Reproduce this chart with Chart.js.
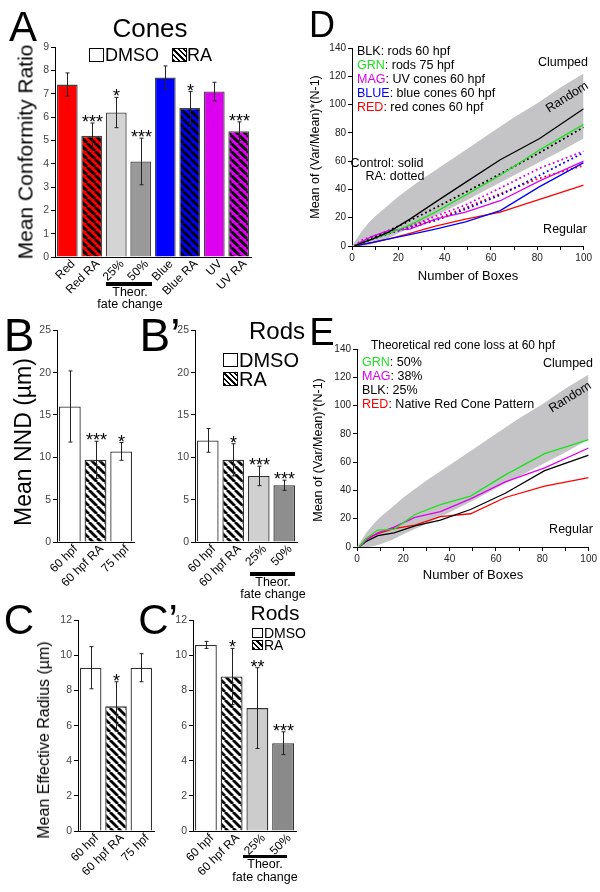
<!DOCTYPE html>
<html>
<head>
<meta charset="utf-8">
<script src="https://cdn.jsdelivr.net/npm/chart.js@4.4.1/dist/chart.umd.min.js"></script>
<style>
body { margin:0; background:#fff; width:600px; height:892px; position:relative; overflow:hidden; font-family:'Liberation Sans', Arial, sans-serif; }
canvas { position:absolute; }
.t { position:absolute; line-height:1; white-space:nowrap; color:#000; }
.c { transform:translate(-50%,-50%); }
.l { transform:translateY(-50%); }
.box { position:absolute; border:1.3px solid #000; background:#fff; box-sizing:border-box; }
.hb { background:repeating-linear-gradient(45deg,#000 0 1.7px,#fff 1.7px 3.8px); }
.bar { position:absolute; background:#000; }
</style>
</head>
<body>
<script>
// ---- data: cones (panel A) ----
const coneLabels = ['Red', 'Red RA', '25%', '50%', 'Blue', 'Blue RA', 'UV', 'UV RA'];
const coneMeans  = [7.4, 5.2, 6.2, 4.1, 7.7, 6.4, 7.1, 5.4];
const coneErr    = [0.5, 0.55, 0.65, 1.0, 0.5, 0.7, 0.4, 0.4];
const coneStars  = ['', '***', '*', '***', '', '*', '', '***'];

// ---- data: rods NND (panels B, B') ----
const hpfLabels    = ['60 hpf', '60 hpf RA', '75 hpf'];
const rodLabels    = ['60 hpf', '60 hpf RA', '25%', '50%'];
const nndMeans     = [16, 9.7, 10.7];
const nndErr       = [4.2, 2.2, 1.05];
const nndStars     = ['', '***', '*'];
const rodNndMeans  = [12, 9.7, 7.8, 6.7];
const rodNndErr    = [1.4, 1.9, 1.15, 0.6];
const rodNndStars  = ['', '*', '***', '***'];

// ---- data: effective radius (panels C, C') ----
const radMeans     = [9.3, 7.1, 9.3];
const radErr       = [1.2, 1.4, 0.8];
const radStars     = ['', '*', ''];
const rodRadMeans  = [10.6, 8.8, 7.0, 5.0];
const rodRadErr    = [0.2, 1.6, 2.3, 0.65];
const rodRadStars  = ['', '*', '**', '***'];

// ---- data: dispersion curves (panels D, E) ----
const boxes     = [1, 4, 9, 16, 25, 36, 49, 64, 81, 100];
const bandX     = [0, 2, 4, 7, 10, 15, 20, 30, 40, 50, 60, 70, 80, 90, 100];
const bandHi    = [0, 5, 10, 16, 21, 28, 35, 47, 58, 69, 80, 91, 101, 112, 122];
const bandLo    = [0, 0, 0, 0.5, 2, 5, 9, 16.5, 24.5, 32.7, 41.5, 50, 58.5, 67, 76];

const dRods60     = [0, 2, 5, 10, 19, 31, 45, 61, 76, 97];
const dRods75     = [0, 2, 5, 9, 15, 24, 36, 50, 68, 86];
const dUv60       = [0, 3, 7, 11, 12, 19, 24, 32, 46, 60];
const dBlue60     = [0, 1, 2.5, 5, 8, 12, 17, 25, 42, 59];
const dRed60      = [0, 1, 2.5, 5, 9, 14, 19, 24, 33, 43];
const dRods60RA   = [0, 2, 6, 11, 18, 27, 38, 51, 66, 84];
const dUv60RA     = [0, 4, 7, 9, 14, 21, 29, 41, 55, 67];
const dBlue60RA   = [0, 2, 5, 9, 13, 18, 26, 36, 50, 66];
const dRed60RA    = [0, 2, 5, 9, 14, 19, 27, 37, 48, 57];

const eLoss50   = [0, 6, 12, 12.5, 23, 30, 36, 51, 66, 76];
const eLoss38   = [0, 5, 10, 14, 21, 25, 34, 46, 56, 70];
const eLoss25   = [0, 4, 8, 10, 15, 19, 26.5, 38, 54, 65];
const eNative   = [0, 6, 9.5, 13, 15.5, 21.5, 23.5, 35, 43, 49];

Chart.defaults.font.family = "'Liberation Sans', Arial, sans-serif";
Chart.defaults.color = '#000';

function hatch(base) {
  const s = 8, p = document.createElement('canvas');
  p.width = p.height = s;
  const g = p.getContext('2d');
  g.fillStyle = base; g.fillRect(0, 0, s, s);
  g.strokeStyle = '#000'; g.lineWidth = 2.8;
  for (const k of [-s, 0, s]) { g.beginPath(); g.moveTo(k, 0); g.lineTo(k + s, s); g.stroke(); }
  return g.createPattern(p, 'repeat');
}

function mkCanvas(area, yw, xh, padT, padR) {
  const c = document.createElement('canvas');
  const w = area.r - area.l + yw + padR, h = area.b - area.t + padT + xh;
  c.width = w; c.height = h;
  c.style.left = (area.l - yw) + 'px'; c.style.top = (area.t - padT) + 'px';
  c.style.width = w + 'px'; c.style.height = h + 'px';
  document.body.appendChild(c);
  return c;
}

function txt(s, x, y, size, cls, tf) {
  const d = document.createElement('div');
  d.className = 't ' + (cls || 'c');
  d.style.left = x + 'px'; d.style.top = y + 'px'; d.style.fontSize = size + 'px';
  if (tf) d.style.transform = tf;
  d.innerHTML = s;
  document.body.appendChild(d);
}
function rect(cls, x, y, w, h) {
  const d = document.createElement('div');
  d.className = cls;
  d.style.left = x + 'px'; d.style.top = y + 'px'; d.style.width = w + 'px'; d.style.height = h + 'px';
  document.body.appendChild(d);
}

// error bars + significance stars, from the dataset's own arrays
const errPlugin = {
  id: 'errbars',
  afterDatasetsDraw(chart) {
    const ds = chart.data.datasets[0];
    if (!ds.errs) return;
    const ctx = chart.ctx, xs = chart.scales.x, ys = chart.scales.y;
    ctx.save();
    ctx.strokeStyle = '#222'; ctx.lineWidth = 1;
    ds.data.forEach((m, i) => {
      const px = Math.round(xs.getPixelForValue(i)) + 0.5;
      const hi = ys.getPixelForValue(m + ds.errs[i]), lo = ys.getPixelForValue(m - ds.errs[i]);
      ctx.beginPath();
      ctx.moveTo(px, hi); ctx.lineTo(px, lo);
      ctx.moveTo(px - 2, hi); ctx.lineTo(px + 2, hi);
      ctx.moveTo(px - 2, lo); ctx.lineTo(px + 2, lo);
      ctx.stroke();
      if (ds.stars[i]) {
        ctx.fillStyle = '#000'; ctx.font = "18px 'Liberation Sans', Arial";
        ctx.textAlign = 'center'; ctx.textBaseline = 'alphabetic';
        ctx.fillText(ds.stars[i], px, hi + 5);
      }
    });
    ctx.restore();
  }
};

function barChart(area, labels, means, errs, stars, colors, border, yMax, yStep) {
  const yw = 24, xh = 50, padT = 8, padR = 6;
  const c = mkCanvas(area, yw, xh, padT, padR);
  return new Chart(c, {
    type: 'bar',
    data: {
      labels: labels,
      datasets: [{
        data: means, errs: errs, stars: stars,
        backgroundColor: colors, borderColor: border, borderWidth: 1.3,
        barPercentage: 0.85, categoryPercentage: 1
      }]
    },
    plugins: [errPlugin],
    options: {
      responsive: false, animation: false, devicePixelRatio: 1,
      layout: { autoPadding: false, padding: { left: 0, top: padT, right: padR, bottom: 0 } },
      plugins: { legend: { display: false }, tooltip: { enabled: false } },
      scales: {
        x: {
          grid: { display: false, drawTicks: false, tickLength: 0 },
          border: { color: '#000', width: 1 },
          ticks: { minRotation: 45, maxRotation: 45, autoSkip: false, padding: 0, labelOffset: 6,
                   font: { size: 12 }, color: '#000' },
          afterFit: s => { s.height = xh; }
        },
        y: {
          min: 0, max: yMax,
          grid: { drawOnChartArea: false, tickLength: 4, color: '#000' },
          border: { color: '#000', width: 1 },
          ticks: { stepSize: yStep, font: { size: 10.5 }, color: '#444', padding: 2 },
          afterFit: s => { s.width = yw; }
        }
      }
    }
  });
}

const pts = (xs, ys) => xs.map((x, i) => ({ x: x, y: ys[i] }));
function line(ys, color, dotted) {
  return {
    data: pts(boxes, ys), borderColor: color, borderWidth: dotted ? 1.8 : 1.3,
    borderDash: dotted ? [1.8, 2.8] : [], pointRadius: 0, tension: 0, fill: false
  };
}

function lineChart(area, lines) {
  const yw = 42, xh = 20, padT = 8, padR = 10;
  const c = mkCanvas(area, yw, xh, padT, padR);
  const axis = (max, isY) => ({
    type: 'linear', min: 0, max: max,
    grid: { drawOnChartArea: false, tickLength: 4, color: '#000' },
    border: { color: '#000', width: 1 },
    ticks: { stepSize: 10, font: { size: 10 }, color: '#222', padding: 2, maxRotation: 0,
             callback: v => (v % 20 === 0 ? v : '') },
    afterFit: isY ? (s => { s.width = yw; }) : (s => { s.height = xh; })
  });
  return new Chart(c, {
    type: 'line',
    data: {
      datasets: [
        { data: pts(bandX, bandHi), fill: '+1', backgroundColor: '#c4c4c6', borderWidth: 0, pointRadius: 0, tension: 0, order: 10 },
        { data: pts(bandX, bandLo), fill: false, borderWidth: 0, pointRadius: 0, tension: 0, order: 11 }
      ].concat(lines)
    },
    options: {
      responsive: false, animation: false, devicePixelRatio: 1,
      layout: { autoPadding: false, padding: { left: 0, top: padT, right: padR, bottom: 0 } },
      plugins: { legend: { display: false }, tooltip: { enabled: false }, filler: { drawTime: 'beforeDatasetsDraw' } },
      scales: { x: axis(100, false), y: axis(140, true) }
    }
  });
}

const RED = '#ff0000', BLUE = '#0000ff', MAG = '#dd00ee', GRN = '#1ee01e';

// ---- A ----
barChart({ l: 55, r: 251, t: 47, b: 257 }, coneLabels, coneMeans, coneErr, coneStars,
  [RED, hatch(RED), '#d4d4d4', '#999999', BLUE, hatch(BLUE), MAG, hatch(MAG)], '#444', 9, 1);
// ---- B, B' ----
barChart({ l: 57, r: 134, t: 330, b: 542 }, hpfLabels, nndMeans, nndErr, nndStars,
  ['#fff', hatch('#fff'), '#fff'], '#333', 25, 5);
barChart({ l: 195, r: 297, t: 330, b: 542 }, rodLabels, rodNndMeans, rodNndErr, rodNndStars,
  ['#fff', hatch('#fff'), '#d0d0d0', '#8e8e8e'], '#333', 25, 5);
// ---- C, C' ----
barChart({ l: 78, r: 154, t: 620, b: 831 }, hpfLabels, radMeans, radErr, radStars,
  ['#fff', hatch('#fff'), '#fff'], '#333', 12, 2);
barChart({ l: 193, r: 296, t: 620, b: 831 }, rodLabels, rodRadMeans, rodRadErr, rodRadStars,
  ['#fff', hatch('#fff'), '#cccccc', '#8a8a8a'], '#333', 12, 2);

// ---- D ----
lineChart({ l: 352, r: 584, t: 48, b: 246 }, [
  line(dRods60, '#000'), line(dRods75, GRN), line(dUv60, MAG), line(dBlue60, BLUE), line(dRed60, RED),
  line(dRods60RA, '#000', true), line(dUv60RA, MAG, true), line(dBlue60RA, BLUE, true), line(dRed60RA, RED, true)
]);
// ---- E ----
lineChart({ l: 357, r: 589, t: 349, b: 547 }, [
  line(eLoss50, GRN), line(eLoss38, MAG), line(eLoss25, '#000'), line(eNative, RED)
]);

// ---- text: panel A ----
txt('A', 23, 27, 42);
txt('Cones', 150, 28, 26);
rect('box', 89, 48, 15, 14); txt('DMSO', 105, 55, 18, 'l');
rect('box hb', 172, 48, 15, 14); txt('RA', 187, 55, 18, 'l');
txt('Mean Conformity Ratio', 25, 152, 21, 'c', 'translate(-50%,-50%) rotate(-90deg)');
rect('bar', 106, 282, 46, 4);
txt('Theor.', 130, 292, 12.5);
txt('fate change', 130, 304, 12.5);

// ---- text: B, B' ----
txt('B', 19, 335, 46);
txt('Mean NND (µm)', 23, 442, 23, 'c', 'translate(-50%,-50%) rotate(-90deg)');
txt('B’', 160, 335, 46);
txt('Rods', 277, 331, 24);
rect('box', 223, 353, 15, 14); txt('DMSO', 239, 360, 20, 'l');
rect('box hb', 223, 372, 15, 14); txt('RA', 239, 379, 20, 'l');
rect('bar', 250, 572, 45, 4);
txt('Theor.', 273, 582, 12.5);
txt('fate change', 273, 594, 12.5);

// ---- text: C, C' ----
txt('C', 19, 620, 42);
txt('Mean Effective Radius (µm)', 44, 740, 16, 'c', 'translate(-50%,-50%) rotate(-90deg)');
txt('C’', 158, 620, 42);
txt('Rods', 275, 612, 21);
rect('box', 252, 628, 11, 10); txt('DMSO', 264, 633, 14, 'l');
rect('box hb', 252, 640, 11, 10); txt('RA', 264, 645, 14, 'l');
rect('bar', 243, 855, 44, 3);
txt('Theor.', 265, 864, 12.5);
txt('fate change', 265, 877, 12.5);

// ---- text: D ----
txt('D', 322, 25, 36);
txt('BLK: rods 60 hpf', 357, 51, 12.5, 'l');
txt('<span style="color:' + GRN + '">GRN</span>: rods 75 hpf', 357, 65, 12.5, 'l');
txt('<span style="color:' + MAG + '">MAG</span>: UV cones 60 hpf', 357, 79, 12.5, 'l');
txt('<span style="color:' + BLUE + '">BLUE</span>: blue cones 60 hpf', 357, 93, 12.5, 'l');
txt('<span style="color:' + RED + '">RED</span>: red cones 60 hpf', 357, 107, 12.5, 'l');
txt('Clumped', 563, 62, 12.5);
txt('Random', 567, 97, 12.5, 'c', 'translate(-50%,-50%) rotate(-32deg)');
txt('Regular', 565, 229, 12.5);
txt('Control: solid', 387, 163, 12.5);
txt('RA: dotted', 395, 176, 12.5);
txt('Number of Boxes', 468, 275, 13);
txt('Mean of (Var/Mean)*(N-1)', 315, 147, 12.5, 'c', 'translate(-50%,-50%) rotate(-90deg)');

// ---- text: E ----
txt('E', 322, 332, 38);
txt('Theoretical red cone loss at 60 hpf', 463, 345, 12);
txt('<span style="color:' + GRN + '">GRN</span>: 50%', 362, 362, 12.5, 'l');
txt('<span style="color:' + MAG + '">MAG</span>: 38%', 362, 376, 12.5, 'l');
txt('BLK: 25%', 362, 390, 12.5, 'l');
txt('<span style="color:' + RED + '">RED</span>: Native Red Cone Pattern', 362, 404, 12.5, 'l');
txt('Clumped', 568, 363, 12.5);
txt('Random', 570, 397, 12.5, 'c', 'translate(-50%,-50%) rotate(-32deg)');
txt('Regular', 571, 529, 12.5);
txt('Number of Boxes', 473, 574, 13);
txt('Mean of (Var/Mean)*(N-1)', 318, 450, 12.5, 'c', 'translate(-50%,-50%) rotate(-90deg)');
</script>
</body>
</html>
